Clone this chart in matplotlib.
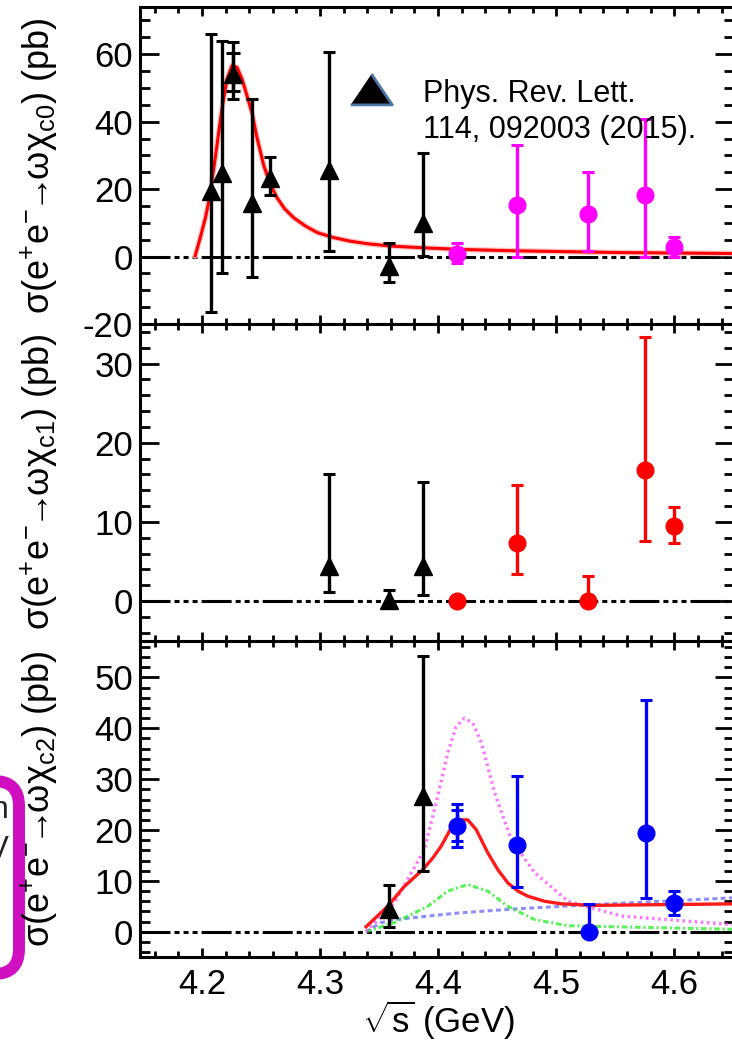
import matplotlib
matplotlib.use("Agg")
import matplotlib.pyplot as plt
import numpy as np
from matplotlib.patches import FancyBboxPatch
from matplotlib.transforms import IdentityTransform
from matplotlib.ticker import MultipleLocator

plt.rcParams['font.family'] = ['Liberation Sans', 'DejaVu Sans']
plt.rcParams['mathtext.fontset'] = 'custom'
plt.rcParams['mathtext.rm'] = 'Liberation Sans'
plt.rcParams['mathtext.it'] = 'Liberation Sans:italic'
plt.rcParams['mathtext.bf'] = 'Liberation Sans:bold'
plt.rcParams['lines.scale_dashes'] = False

# ---------------- data ----------------
# Panel 1: e+e- -> omega chi_c0
c0_prl_x = [4.208, 4.217, 4.226, 4.242, 4.258, 4.308, 4.358, 4.387]
c0_prl_y = [19.3, 24.7, 54.0, 15.9, 23.2, 25.7, -2.7, 10.0]
c0_prl_lo = [-16.5, -5.0, 46.8, -6.0, 18.3, 1.7, -7.4, 0.2]
c0_prl_hi = [65.9, 63.9, 63.5, 46.8, 29.6, 60.7, 4.1, 30.8]
c0_stat_x = [4.226]
c0_stat_y = [54.0]
c0_stat_lo = [49.2]
c0_stat_hi = [60.5]

c0_new_x = [4.416, 4.467, 4.527, 4.575, 4.600]
c0_new_y = [0.9, 15.4, 12.5, 18.3, 2.8]
c0_new_lo = [-1.8, 0.0, 1.7, 0.0, 0.0]
c0_new_hi = [4.1, 33.2, 25.0, 40.9, 5.8]

c0_fit_x = [4.1943, 4.1986, 4.2030, 4.2065, 4.2120, 4.2170, 4.2212, 4.2255,
            4.2297, 4.2340, 4.2382, 4.2425, 4.2465, 4.2523, 4.2580, 4.2637,
            4.2700, 4.2778, 4.2870, 4.2977, 4.3118, 4.3250, 4.3402, 4.3600,
            4.3870, 4.4200, 4.4670, 4.5500, 4.6500]
c0_fit_y = [0.2, 5.6, 11.5, 17.4, 31.0, 43.8, 52.6, 56.6,
            56.1, 52.6, 47.7, 42.5, 35.5, 27.1, 21.3, 17.4,
            14.2, 11.5, 9.2, 7.1, 5.6, 4.6, 3.8, 3.1,
            2.6, 2.1, 1.7, 1.2, 0.9]

# Panel 2: e+e- -> omega chi_c1
c1_prl_x = [4.308, 4.358, 4.387]
c1_prl_y = [4.45, 0.2, 4.4]
c1_prl_lo = [1.1, -0.3, 0.8]
c1_prl_hi = [16.05, 1.4, 15.0]

c1_new_x = [4.416, 4.467, 4.527, 4.575, 4.600]
c1_new_y = [0.0, 7.4, 0.0, 16.6, 9.5]
c1_new_lo = [0.0, 3.4, 0.0, 7.6, 7.3]
c1_new_hi = [0.0, 14.7, 3.2, 33.4, 11.9]

# Panel 3: e+e- -> omega chi_c2
c2_prl_x = [4.358, 4.387]
c2_prl_y = [4.4, 26.6]
c2_prl_lo = [1.0, 11.9]
c2_prl_hi = [9.3, 54.2]

c2_new_x = [4.416, 4.467, 4.528, 4.576, 4.600]
c2_new_y = [20.7, 17.0, 0.0, 19.4, 5.7]
c2_new_lo = [16.6, 8.9, 0.0, 6.7, 3.4]
c2_new_hi = [25.1, 30.6, 5.4, 45.5, 8.0]
c2_stat_x = [4.416]
c2_stat_y = [20.7]
c2_stat_lo = [17.8]
c2_stat_hi = [24.0]

c2_tot_x = [4.339, 4.3572, 4.3713, 4.3869, 4.3954, 4.4025, 4.4110, 4.4195,
            4.4251, 4.4322, 4.4421, 4.4506, 4.4591, 4.4676, 4.4760, 4.4903,
            4.5044, 4.5327, 4.6500]
c2_tot_y = [1.0, 5.0, 8.9, 12.2, 14.5, 16.8, 20.4, 22.0,
            22.0, 20.1, 15.5, 12.2, 9.6, 8.0, 7.0, 6.0,
            5.5, 5.2, 5.5]

c2_a_x = [4.339, 4.3629, 4.3883, 4.3996, 4.4081, 4.4152, 4.4223, 4.4294,
          4.4367, 4.4479, 4.4619, 4.4818, 4.5100, 4.5555, 4.6500]
c2_a_y = [0.0, 5.7, 16.1, 26.6, 35.1, 40.3, 42.0, 41.0,
          37.1, 27.3, 18.1, 11.6, 6.0, 3.1, 1.4]

c2_b_x = [4.339, 4.3629, 4.3912, 4.4081, 4.4251, 4.4421, 4.4591, 4.4818,
          4.5100, 4.6500]
c2_b_y = [0.0, 1.8, 5.0, 8.0, 9.3, 8.0, 5.0, 2.4, 1.2, 0.5]

c2_c_x = [4.339, 4.3515, 4.3629, 4.4167, 4.4647, 4.5270, 4.6500]
c2_c_y = [0.0, 1.8, 2.4, 3.7, 4.5, 5.3, 6.7]

ylabels = [r'$\mathregular{\sigma(e^{+}e^{-}\!\!\rightarrow\!\!\omega\chi_{c0})\ (pb)}$',
           r'$\mathregular{\sigma(e^{+}e^{-}\!\!\rightarrow\!\!\omega\chi_{c1})\ (pb)}$',
           r'$\mathregular{\sigma(e^{+}e^{-}\!\!\rightarrow\!\!\omega\chi_{c2})\ (pb)}$']
xlabel = r'$\sqrt{\mathregular{s}}$ (GeV)'
ref_lines = ['Phys. Rev. Lett.', '114, 092003 (2015).']
box_lines = ['solution', 'GeV']

# ---------------- figure ----------------
W, H = 732, 1045
fig = plt.figure(figsize=(W / 100, H / 100), dpi=100)

left = 140 / W
width = (734 - 140) / W
tops = [7, 324, 640.7]
bots = [324, 640.7, 957.3]
ylims = [(-20, 74), (-5, 35), (-5, 57.2)]
ymaj = [20, 10, 10]
ymin = [5, 2, 2]

axes = []
for i in range(3):
    ax = fig.add_axes([left, 1 - bots[i] / H, width, (bots[i] - tops[i]) / H])
    ax.set_xlim(4.1476, 4.6505)
    ax.set_ylim(*ylims[i])
    ax.xaxis.set_major_locator(MultipleLocator(0.1))
    ax.xaxis.set_minor_locator(MultipleLocator(0.02))
    ax.yaxis.set_major_locator(MultipleLocator(ymaj[i]))
    ax.yaxis.set_minor_locator(MultipleLocator(ymin[i]))
    for s in ax.spines.values():
        s.set_linewidth(2.2)
    ax.tick_params(axis='both', which='both', direction='in', top=True, right=True,
                   width=2.0, labelsize=25)
    ax.tick_params(axis='y', which='major', length=13.7, pad=5)
    ax.tick_params(axis='y', which='minor', length=7.5)
    ax.tick_params(axis='x', which='major', length=6.8, pad=8)
    ax.tick_params(axis='x', which='minor', length=4.3)
    if i < 2:
        ax.tick_params(axis='x', labelbottom=False)
    ax.axhline(0, color='black', lw=2.2, zorder=1,
               dashes=(21.6, 2.9, 3.6, 2.9, 3.6, 2.9, 3.6, 2.9))
    axes.append(ax)

ax1, ax2, ax3 = axes
ax1.yaxis.set_major_formatter(matplotlib.ticker.FuncFormatter(lambda v, p: '%d' % v))


def ebar(ax, x, y, lo, hi, color, marker, ms, cap=4.0, z=3):
    x = np.asarray(x); y = np.asarray(y)
    err = [y - np.asarray(lo), np.asarray(hi) - y]
    ax.errorbar(x, y, yerr=err, fmt=marker, color=color, ms=ms, mec=color,
                ecolor=color, elinewidth=2.4, capsize=cap, capthick=2.2, zorder=z)


# panel 1
ax1.plot(c0_fit_x, c0_fit_y, color='#ffc4c4', lw=4.0, zorder=2, solid_capstyle='round')
ax1.plot(c0_fit_x, c0_fit_y, color='#ff0000', lw=2.2, zorder=2.5)
ebar(ax1, c0_prl_x, c0_prl_y, c0_prl_lo, c0_prl_hi, 'black', '^', 13)
ebar(ax1, c0_stat_x, c0_stat_y, c0_stat_lo, c0_stat_hi, 'black', 'none', 0, cap=5.0)
ebar(ax1, c0_new_x, c0_new_y, c0_new_lo, c0_new_hi, '#ff00ff', 'o', 12)

# legend-like triangle and reference text
ax1.plot([4.343], [49.7], marker=[(-1, -0.74), (1, -0.74), (0, 0.74)], ms=30,
         color='black', mec='#4a76a8', mew=2.0, zorder=5, clip_on=False)
fig.text(423 / W, 1 - 102 / H, ref_lines[0], fontsize=22, ha='left', va='baseline')
fig.text(423 / W, 1 - 138 / H, ref_lines[1], fontsize=22, ha='left', va='baseline')

# panel 2
ebar(ax2, c1_prl_x, c1_prl_y, c1_prl_lo, c1_prl_hi, 'black', '^', 13)
ebar(ax2, c1_new_x, c1_new_y, c1_new_lo, c1_new_hi, '#ff0000', 'o', 12)

# panel 3
ax3.plot(c2_c_x, c2_c_y, color='#3030ff', lw=2.2, alpha=0.55, dashes=(3.5, 2.5), zorder=2)
ax3.plot(c2_b_x, c2_b_y, color='#22ee22', lw=2.2, alpha=0.75,
         dashes=(4.0, 2.0, 1.5, 2.0), zorder=2)
ax3.plot(c2_a_x, c2_a_y, color='#ff44ff', lw=2.4, alpha=0.75, dashes=(1.8, 2.6), zorder=2)
ax3.plot(c2_tot_x, c2_tot_y, color='#ff1a1a', lw=2.4, zorder=2.5)
ebar(ax3, c2_prl_x, c2_prl_y, c2_prl_lo, c2_prl_hi, 'black', '^', 13)
ebar(ax3, c2_new_x, c2_new_y, c2_new_lo, c2_new_hi, '#0000ff', 'o', 12)
ebar(ax3, c2_stat_x, c2_stat_y, c2_stat_lo, c2_stat_hi, '#0000ff', 'none', 0)

# y labels
for i in range(3):
    yc = 1 - (tops[i] + bots[i]) / 2 / H
    fig.text(39 / W, yc, ylabels[i], rotation=90, ha='center', va='center', fontsize=26)

fig.text(438 / W, 1 - 1020 / H, xlabel, ha='center', va='center', fontsize=25)

# purple rounded box on the left (cropped)
box = FancyBboxPatch((-300, H - 974), 319, 974 - 781,
                     boxstyle='round,pad=0,rounding_size=25',
                     transform=IdentityTransform(), facecolor='none',
                     edgecolor='#d010c0', lw=8.6)
fig.add_artist(box)
fig.text(9, H - 810, box_lines[0], transform=IdentityTransform(), fontsize=22,
         ha='right', va='center', color='#222222')
fig.text(9, H - 850, box_lines[1], transform=IdentityTransform(), fontsize=22,
         ha='right', va='center', color='#222222')

fig.savefig('out.png', dpi=100)
